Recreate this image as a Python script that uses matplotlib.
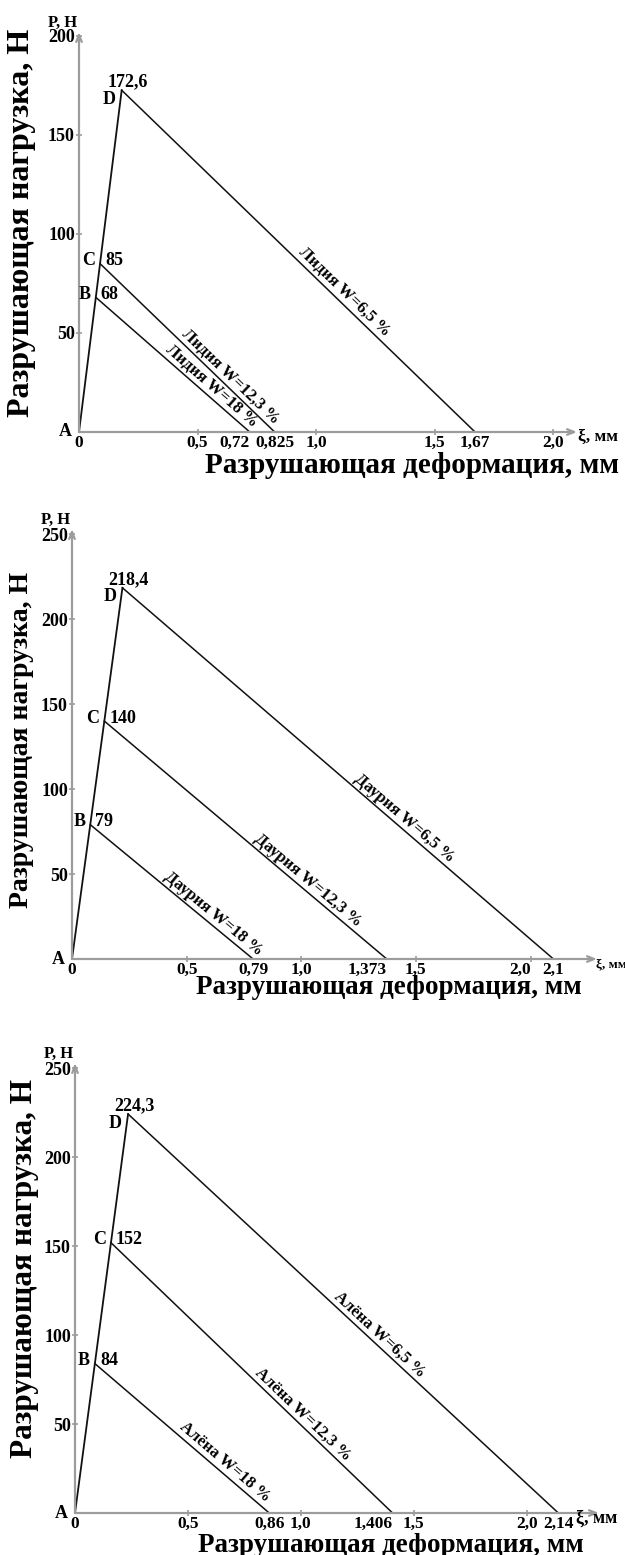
import matplotlib.pyplot as plt
import numpy as np

plt.rcParams['font.family'] = ['Liberation Serif', 'DejaVu Serif']
plt.rcParams['font.weight'] = 'bold'

varieties = ['Лидия', 'Даурия', 'Алёна']
moisture = ['18', '12,3', '6,5']
point_names = ['B', 'C', 'D']

# failure load at the points B, C, D, N
loads = [[68, 85, 172.6], [79, 140, 218.4], [84, 152, 224.3]]
load_labels = [['68', '85', '172,6'], ['79', '140', '218,4'], ['84', '152', '224,3']]
# deformation at the points B, C, D (on the line A-D), mm
peak_def = [[0.071, 0.089, 0.18], [0.08, 0.141, 0.22], [0.088, 0.159, 0.235]]
# failure deformation, mm
fail_def = [[0.72, 0.825, 1.67], [0.79, 1.373, 2.1], [0.86, 1.406, 2.14]]
fail_labels = [['0,72', '0,825', '1,67'], ['0,79', '1,373', '2,1'], ['0,86', '1,406', '2,14']]

x_ticks = [0.5, 1.0, 1.5, 2.0]
x_tick_labels = ['0,5', '1,0', '1,5', '2,0']
y_ticks = [[50, 100, 150, 200], [50, 100, 150, 200, 250], [50, 100, 150, 200, 250]]

W, H = 625, 1555
GREY = '#9c9c9c'

# layout of each panel in pixels: left, top, right, bottom of the plot area
panels = [
    dict(rect=(79, 32, 577, 432), xlim=2.1, ylim=202, right=['0,72'],
         xi=(1, 12.5), frac=[0.71, 0.71, 0.61], ylab=(22, 223, 23), xlab=(412, 473, 21)),
    dict(rect=(72, 529, 597, 959), xlim=2.29, ylim=253, right=['1,373', '2,0'],
         xi=(-1, 9.5), frac=[0.72, 0.70, 0.64], ylab=(22, 740, 20), xlab=(389, 994, 19.5)),
    dict(rect=(75, 1063, 599, 1513), xlim=2.32, ylim=253, right=['1,406'],
         xi=(-23, 13), frac=[0.71, 0.66, 0.57], ylab=(25, 1268, 22.5), xlab=(391, 1552, 19.5)),
]

fig = plt.figure(figsize=(W / 100, H / 100), dpi=100)

for i, p in enumerate(panels):
    l, t, r, b = p['rect']
    ax = fig.add_axes([l / W, 1 - b / H, (r - l) / W, (b - t) / H])
    ax.set_xlim(0, p['xlim'])
    ax.set_ylim(0, p['ylim'])
    for spine in ax.spines.values():
        spine.set_visible(False)

    # axes with arrows
    arrow = dict(arrowstyle='->,head_length=0.5,head_width=0.2', color=GREY, lw=1.6,
                 shrinkA=0, shrinkB=0)
    ax.annotate('', xy=(1, 0), xytext=(0, 0), xycoords='axes fraction', arrowprops=arrow,
                annotation_clip=False)
    ax.annotate('', xy=(0, 1), xytext=(0, 0), xycoords='axes fraction', arrowprops=arrow,
                annotation_clip=False)

    # ticks
    ax.set_yticks(y_ticks[i], labels=[str(v) for v in y_ticks[i]])
    ax.tick_params(axis='y', length=4, direction='inout', color=GREY, width=1.2, pad=1,
                   labelsize=13)
    ax.set_xticks(x_ticks, labels=x_tick_labels)
    ax.set_xticks([0] + fail_def[i], labels=['0'] + fail_labels[i], minor=True)
    ax.tick_params(axis='x', which='major', length=4, direction='inout', color=GREY,
                   width=1.2, pad=0, labelsize=12.5)
    ax.tick_params(axis='x', which='minor', length=0, pad=2, labelsize=12.5)
    for lab in ax.get_xticklabels() + ax.get_xticklabels(minor=True):
        if lab.get_text() in p['right']:
            lab.set_ha('right')

    # line A-D
    ax.plot([0, peak_def[i][2]], [0, loads[i][2]], color='#111111', lw=1.3, clip_on=False)
    # unloading lines
    for j in range(3):
        xs = [peak_def[i][j], fail_def[i][j]]
        ys = [loads[i][j], 0]
        ax.plot(xs, ys, color='#111111', lw=1.1, clip_on=False)

        # label along the line
        tx = xs[0] + p['frac'][j] * (xs[1] - xs[0])
        ty = ys[0] + p['frac'][j] * (ys[1] - ys[0])
        d = ax.transData.transform([[xs[0], ys[0]], [xs[1], ys[1]]])
        ang = np.arctan2(d[1, 1] - d[0, 1], d[1, 0] - d[0, 0])
        off = 1.5
        ax.annotate(f'{varieties[i]} W={moisture[j]} %', xy=(tx, ty),
                    xytext=(-np.sin(ang) * off, np.cos(ang) * off), textcoords='offset pixels',
                    rotation=np.degrees(ang), rotation_mode='anchor', ha='center', va='bottom',
                    fontsize=12)

        # point names and values
        if point_names[j] == 'D':
            ax.annotate('D', xy=(xs[0], ys[0]), xytext=(-6, -9), textcoords='offset pixels',
                        ha='right', va='center', fontsize=13)
            ax.annotate(load_labels[i][j], xy=(xs[0], ys[0]), xytext=(6, 0),
                        textcoords='offset pixels', ha='center', va='bottom', fontsize=13)
        else:
            ax.annotate(point_names[j], xy=(xs[0], ys[0]), xytext=(-5, 3),
                        textcoords='offset pixels', ha='right', va='center', fontsize=13)
            ax.annotate(load_labels[i][j], xy=(xs[0], ys[0]), xytext=(5, 3),
                        textcoords='offset pixels', ha='left', va='center', fontsize=13)

    ax.annotate('A', xy=(0, 0), xytext=(-7, 0), textcoords='offset pixels',
                ha='right', va='center', fontsize=13)
    ax.annotate('Р, Н', xy=(0, 1), xycoords='axes fraction', xytext=(-16, 9),
                textcoords='offset pixels', ha='center', va='center', fontsize=12)
    dx, fs = p['xi']
    ax.annotate('ξ, мм', xy=(1, 0), xycoords='axes fraction', xytext=(dx, -5),
                textcoords='offset pixels', ha='left', va='center', fontsize=fs)

    yx, yy, ysz = p['ylab']
    fig.text(yx / W, 1 - yy / H, 'Разрушающая нагрузка, Н', rotation=90,
             ha='center', va='center', fontsize=ysz)
    xx, xy_, xsz = p['xlab']
    fig.text(xx / W, 1 - xy_ / H, 'Разрушающая деформация, мм',
             ha='center', va='baseline', fontsize=xsz)

fig.savefig('out.png', dpi=100)
